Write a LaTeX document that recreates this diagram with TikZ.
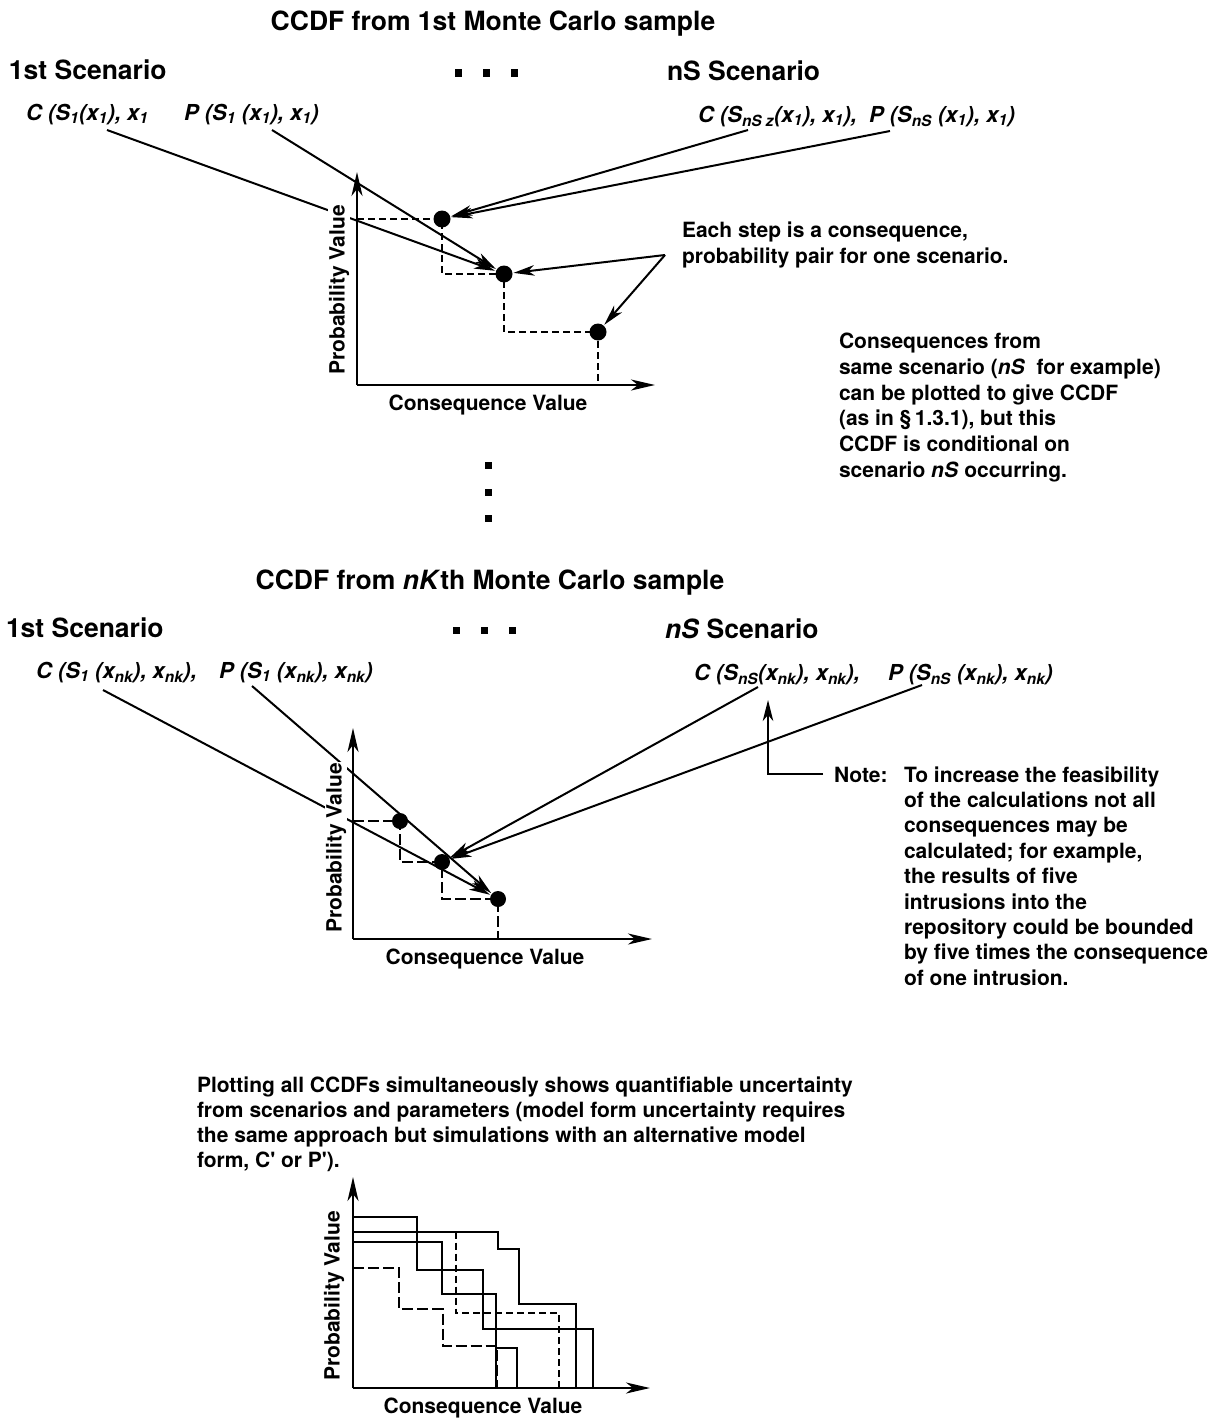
\documentclass[tikz,border=0pt]{standalone}
\usepackage{fontspec}
\setmainfont{TeX Gyre Heros}
\usetikzlibrary{arrows.meta}
\begin{document}
\begin{tikzpicture}[x=1pt,y=-1pt,line width=2pt,
  dot/.style={circle,fill=black,inner sep=0pt,minimum size=17pt},
  mdot/.style={circle,fill=black,inner sep=0pt,minimum size=16pt},
  arr/.style={-{Stealth[length=21pt,width=10.5pt,inset=6pt]},line width=2pt},
  axis/.style={-{Stealth[length=24pt,width=11pt,inset=7pt]},line width=2.4pt},
  txt/.style={font=\fontsize{21}{25.6}\selectfont\bfseries,inner sep=0pt},
  ttl/.style={font=\fontsize{26.5}{30}\selectfont\bfseries,inner sep=0pt},
  lab/.style={font=\fontsize{22}{26}\selectfont\bfseries\itshape,inner sep=0pt},
  ylab/.style={txt,rotate=90,fill=white,inner sep=1pt},
  stepline/.style={dash pattern=on 7pt off 4pt,line width=2pt},
  longdash/.style={dash pattern=on 11pt off 4pt,line width=2pt},
  ccdf/.style={line width=2.3pt},
  sq/.style={fill=black,minimum size=7pt,inner sep=0pt}
]
\fill[white] (0,0) rectangle (1220,1421);
\path[use as bounding box] (0,0) rectangle (1220,1421);

% ================= TOP SECTION =================
\node[ttl,anchor=base] (title1) at (493,31) {CCDF from 1st Monte Carlo sample};
\node[ttl,anchor=base west] (s1a) at (8,80) {1st Scenario};
\node[sq] (h1a) at (458,73) {};
\node[sq] (h2a) at (486,73) {};
\node[sq] (h3a) at (514,73) {};
\node[ttl,anchor=base west] (sna) at (666,81) {nS Scenario};
\node[lab,anchor=base west] (c1a) at (25,120) {C (S\textsubscript{1}(x\textsubscript{1}), x\textsubscript{1}};
\node[lab,anchor=base west] (p1a) at (183,120) {P (S\textsubscript{1} (x\textsubscript{1}), x\textsubscript{1})};
\node[lab,anchor=base west] (cna) at (697,122) {C (S\textsubscript{nS z}(x\textsubscript{1}), x\textsubscript{1}),};
\node[lab,anchor=base west] (pna) at (868,122) {P (S\textsubscript{nS} (x\textsubscript{1}), x\textsubscript{1})};

\coordinate (o1) at (357,385);
\coordinate (y1) at (357,172);
\coordinate (x1) at (655,385);
\draw[stepline] (357,219) -- (442,219) -- (442,274) -- (504,274) -- (504,332) -- (598,332) -- (598,385);
\draw[axis] (o1) -- (y1);
\draw[axis] (o1) -- (x1);
\node[dot] (t1) at (442,219) {};
\node[dot] (t2) at (504,274) {};
\node[dot] (t3) at (598,332) {};

\coordinate (c1aE) at (107,130);
\coordinate (p1aE) at (272,130);
\coordinate (cnaE) at (748,130);
\coordinate (pnaE) at (890,131);
\coordinate (eachE) at (665,255);
\draw[arr] (c1aE) -- (t2);
\draw[arr] (p1aE) -- (t2);
\draw[arr] (cnaE) -- (t1);
\draw[arr] (pnaE) -- (t1);
\draw[arr] (eachE) -- (t2);
\draw[arr] (eachE) -- (t3);

\node[ylab] (yl1) at (339,290) {Probability Value};
\node[txt] (xl1) at (488,405) {Consequence Value};

\node[txt,anchor=base west] (each1) at (681,237) {Each step is a consequence,};
\node[txt,anchor=base west] (each2) at (681,263) {probability pair for one scenario.};

\foreach \t [count=\i] in {{Consequences from},{same scenario (\textit{nS}\ \ for example)},{can be plotted to give CCDF},{(as in \S\,1.3.1), but this},{CCDF is conditional on},{scenario \textit{nS} occurring.}}
  \node[txt,anchor=base west] (cons\i) at (838,{348.5+25.8*(\i-1)}) {\t};

\node[sq] (v1) at (488,465) {};
\node[sq] (v2) at (488,492) {};
\node[sq] (v3) at (488,518) {};

% ================= MIDDLE SECTION =================
\node[ttl,anchor=base] (title2) at (490,589) {CCDF from \textit{nK}th Monte Carlo sample};
\node[ttl,anchor=base west] (s1b) at (5,637) {1st Scenario};
\node[sq] (h1b) at (456,630) {};
\node[sq] (h2b) at (484,630) {};
\node[sq] (h3b) at (512,630) {};
\node[ttl,anchor=base west] (snb) at (664,638) {\textit{nS} Scenario};
\node[lab,anchor=base west] (c1b) at (35,678) {C (S\textsubscript{1} (x\textsubscript{nk}), x\textsubscript{nk}),};
\node[lab,anchor=base west] (p1b) at (218,678) {P (S\textsubscript{1} (x\textsubscript{nk}), x\textsubscript{nk})};
\node[lab,anchor=base west] (cnb) at (693,680) {C (S\textsubscript{nS}(x\textsubscript{nk}), x\textsubscript{nk}),};
\node[lab,anchor=base west] (pnb) at (887,680) {P (S\textsubscript{nS} (x\textsubscript{nk}), x\textsubscript{nk})};

\coordinate (o2) at (353,939);
\coordinate (y2) at (353,728);
\coordinate (x2) at (652,939);
\draw[longdash] (353,821) -- (400,821) -- (400,862) -- (442,862) -- (442,899) -- (498,899) -- (498,939);
\draw[axis] (o2) -- (y2);
\draw[axis] (o2) -- (x2);
\node[mdot] (m1) at (400,821) {};
\node[mdot] (m2) at (442,862) {};
\node[mdot] (m3) at (498,899) {};

\coordinate (c1bE) at (103,690);
\coordinate (p1bE) at (252,686);
\coordinate (cnbE) at (758,687);
\coordinate (pnbE) at (922,685);
\draw[arr] (c1bE) -- (m3);
\draw[arr] (p1bE) -- (m3);
\draw[arr] (cnbE) -- (m2);
\draw[arr] (pnbE) -- (m2);

\node[ylab] (yl2) at (336,848) {Probability Value};
\node[txt] (xl2) at (485,959) {Consequence Value};

\coordinate (nt1) at (823,774);
\coordinate (nt2) at (768,774);
\coordinate (nt3) at (768,700);
\draw[arr] (nt1) -- (nt2) -- (nt3);
\node[txt,anchor=base west] (notelab) at (833,782) {Note:};
\foreach \t [count=\i] in {{To increase the feasibility},{of the calculations not all},{consequences may be},{calculated; for example,},{the results of five},{intrusions into the},{repository could be bounded},{by five times the consequence},{of one intrusion.}}
  \node[txt,anchor=base west] (note\i) at (903,{782+25.4*(\i-1)}) {\t};

% ================= BOTTOM SECTION =================
\foreach \t [count=\i] in {{Plotting all CCDFs simultaneously shows quantifiable uncertainty},{from scenarios and parameters (model form uncertainty requires},{the same approach but simulations with an alternative model},{form, C\textquotesingle\ or P\textquotesingle).}}
  \node[txt,anchor=base west] (plot\i) at (196,{1092+25*(\i-1)}) {\t};

\coordinate (o3) at (353,1388);
\coordinate (y3) at (353,1177);
\coordinate (x3) at (650,1388);
\draw[ccdf] (353,1217) -- (416.7,1217) -- (416.7,1270) -- (483,1270) -- (483,1329) -- (592.7,1329) -- (592.7,1388);
\draw[ccdf] (353,1231.7) -- (498.3,1231.7) -- (498.3,1249.3) -- (519.3,1249.3) -- (519.3,1304) -- (576,1304) -- (576,1388);
\draw[ccdf] (353,1241.7) -- (441.7,1241.7) -- (441.7,1294) -- (496,1294) -- (496,1388);
\draw[ccdf] (496,1347.7) -- (517.3,1347.7) -- (517.3,1388);
\draw[longdash] (353,1268.3) -- (399.3,1268.3) -- (399.3,1309) -- (442.7,1309) -- (442.7,1345.7) -- (496.7,1345.7) -- (496.7,1388);
\draw[stepline] (455.7,1231.7) -- (455.7,1313.3) -- (559.3,1313.3) -- (559.3,1388);
\draw[axis] (o3) -- (y3);
\draw[axis] (o3) -- (x3);
\node[ylab] (yl3) at (334,1296) {Probability Value};
\node[txt] (xl3) at (483,1408) {Consequence Value};
\end{tikzpicture}
\end{document}
